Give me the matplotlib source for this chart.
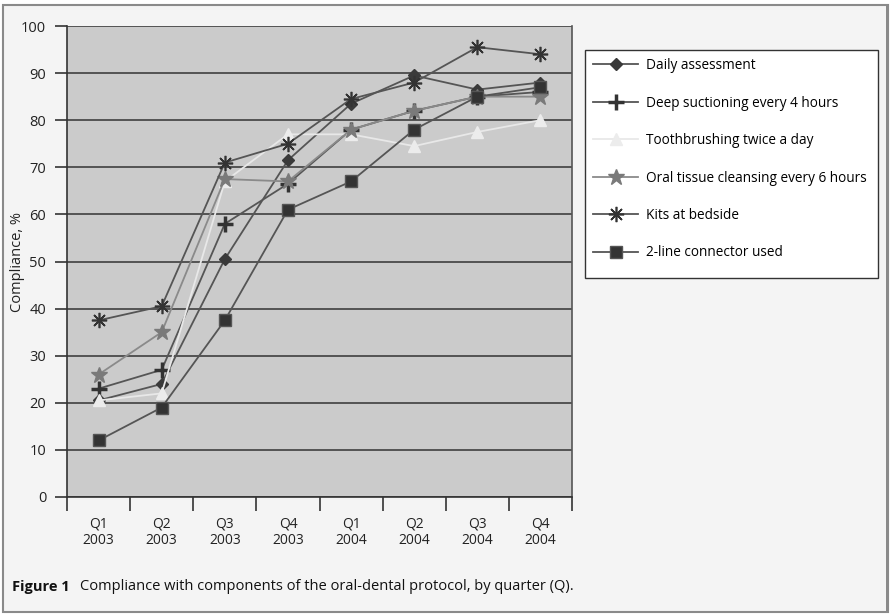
import matplotlib
matplotlib.use("Agg")
import matplotlib.pyplot as plt
from matplotlib.patches import Rectangle

plt.rcParams['font.family'] = ['Open Sans', 'DejaVu Sans']

quarters = ["Q1\n2003", "Q2\n2003", "Q3\n2003", "Q4\n2003",
            "Q1\n2004", "Q2\n2004", "Q3\n2004", "Q4\n2004"]
daily = [20.5, 24, 50.5, 71.5, 83.5, 89.5, 86.5, 88]
deep = [23, 27, 58, 66.5, 78, 82, 85, 86]
tooth = [20.5, 22, 67, 77, 77, 74.5, 77.5, 80]
oral = [26, 35, 67.5, 67, 78, 82, 85, 85]
kits = [37.5, 40.5, 71, 75, 84.5, 88, 95.5, 94]
connector = [12, 19, 37.5, 61, 67, 78, 85, 87]
yticks = [0, 10, 20, 30, 40, 50, 60, 70, 80, 90, 100]

W, H = 890, 615
fig = plt.figure(figsize=(8.9, 6.15), dpi=100)
fig.patch.set_facecolor('white')
# outer frame
frame = Rectangle((2.5 / W, 3 / H), 885 / W, (615 - 5 - 3) / H,
                  transform=fig.transFigure, facecolor='#f4f4f4',
                  edgecolor='#8a8a8a', lw=1.5, zorder=-10)
fig.patches.append(frame)
fig.patches.append(Rectangle((2.5 / W, 2 / H), 885 / W, 2.5 / H,
                             transform=fig.transFigure, facecolor='#8a8a8a',
                             edgecolor='none', zorder=-9))
fig.patches.append(Rectangle((885.5 / W, 2 / H), 2.5 / W, 608 / H,
                             transform=fig.transFigure, facecolor='#8a8a8a',
                             edgecolor='none', zorder=-9))
# legend box
fig.patches.append(Rectangle((585 / W, 1 - 278 / H), (878 - 585) / W, (278 - 50) / H,
                             transform=fig.transFigure, facecolor='white',
                             edgecolor='#333333', lw=1.0, zorder=-8))

ax = fig.add_axes([67 / W, 1 - 497 / H, (572 - 67) / W, (497 - 26) / H])
ax.set_zorder(5)
ax.set_facecolor('#cbcbcb')
x = list(range(len(quarters)))

series = [
    ("Daily assessment", daily, dict(color='#555555', marker='D', ms=6.5, mfc='#3a3a3a', mec='#3a3a3a')),
    ("Deep suctioning every 4 hours", deep, dict(color='#555555', marker='+', ms=11, mew=2.5, mec='#333333')),
    ("Toothbrushing twice a day", tooth, dict(color='#e8e8e8', marker='^', ms=8, mfc='#ececec', mec='#ececec')),
    ("Oral tissue cleansing every 6 hours", oral, dict(color='#8a8a8a', marker='*', ms=12, mfc='#7a7a7a', mec='#7a7a7a')),
    ("Kits at bedside", kits, dict(color='#555555', marker=(8, 2, 0), ms=11, mfc='#333333', mec='#333333', mew=1.2)),
    ("2-line connector used", connector, dict(color='#555555', marker='s', ms=8, mfc='#333333', mec='#555555')),
]
handles = []
for name, vals, st in series:
    ln, = ax.plot(x, vals, lw=1.3, label=name, zorder=3, **st)
    handles.append(ln)

ax.set_xlim(-0.5, len(quarters) - 0.5)
ax.set_ylim(0, 100)
ax.set_yticks(yticks)
ax.set_yticklabels([str(v) for v in yticks], fontsize=10.5, color='#222222')
ax.yaxis.grid(True, color='#333333', lw=1.1)
ax.set_axisbelow(True)
ax.set_xticks(x)
ax.set_xticklabels(quarters, fontsize=10, color='#222222', linespacing=1.15)
ax.tick_params(axis='x', length=0, pad=14)
ax.set_xticks([i - 0.5 for i in range(len(quarters) + 1)], minor=True)
ax.tick_params(axis='x', which='minor', length=10, width=1.2, color='#333333')
ax.tick_params(axis='y', length=9, width=1.2, color='#333333', pad=6)
ax.spines['top'].set_visible(False)
ax.spines['right'].set_color('#555555')
ax.spines['left'].set_color('#333333')
ax.spines['bottom'].set_color('#333333')
for s in ax.spines.values():
    s.set_linewidth(1.2)
ax.set_ylabel("Compliance, %", fontsize=10.5, color='#222222')
ax.yaxis.set_label_coords(-42 / (572 - 67), 0.5)

leg = fig.legend(handles=handles, loc='upper left',
                 bbox_to_anchor=(585 / W, 1 - 50 / H), fontsize=9.8,
                 frameon=False, labelspacing=1.65, handlelength=3.3,
                 borderpad=0.6, handletextpad=0.6, borderaxespad=0)
leg.set_zorder(6)

fig.text(12 / W, 1 - 587 / H, "Figure 1", fontsize=10.5, fontweight='bold',
         va='center', ha='left', color='#111111')
fig.text(80 / W, 1 - 587 / H,
         "Compliance with components of the oral-dental protocol, by quarter (Q).",
         fontsize=10.5, va='center', ha='left', color='#111111')

fig.savefig("out.png", dpi=100, facecolor=fig.get_facecolor())
